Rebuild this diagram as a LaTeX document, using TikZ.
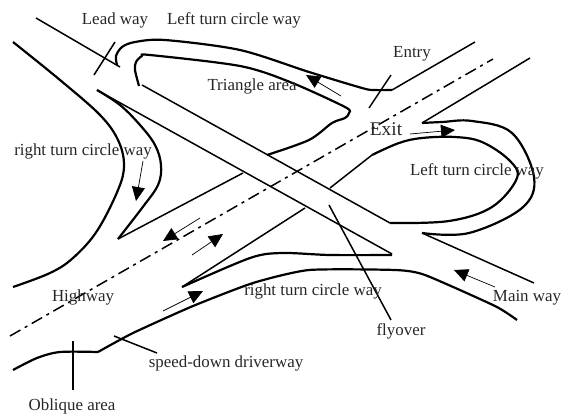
\documentclass[tikz,border=0pt]{standalone}
\usepackage{fontspec}
\setmainfont{Liberation Serif}
\usetikzlibrary{arrows.meta}
\tikzstyle{road} = [line width=1.5pt,black]
\tikzstyle{ramp} = [line width=2.2pt,black,line join=round]
\tikzstyle{arrow} = [line width=0.7pt,black,-{Triangle[length=14pt,width=13pt]}]
\tikzstyle{axis} = [line width=1.5pt,black,dash pattern=on 12pt off 5pt on 3pt off 5pt]
\tikzstyle{label} = [inner sep=0pt,font=\fontsize{16.9}{18}\selectfont,text=black!85]
\begin{document}
\begin{tikzpicture}[x=1pt,y=-1pt]
    \useasboundingbox (0,0) rectangle (564,415);

    % road edges
    \draw[road] (36,18) -- (120,67);
    \draw[road] (392,90) -- (475,42);
    \draw[road] (422,123) -- (530,58);
    \draw[road] (422,233) -- (534,283);
    \draw[road] (118,239) -- (243,173);
    \draw[road] (330,188) -- (372,155);
    \draw[road] (182,287) -- (305,208);

    % flyover
    \draw[road] (142,85) -- (390,223);
    \draw[road] (97,90) -- (392,254);

    % ramps
    \draw[ramp] plot[smooth,tension=0.5] coordinates {(117,65) (116,56) (122,47) (135,42) (165,40) (240,50) (309,72) (362,88) (374,90) (392,90)};
    \draw[ramp] plot[smooth,tension=0.5] coordinates {(139,86) (135,70) (136,62) (142,56) (150,55) (240,66) (290,82) (345,107) (349,113) (345,118) (332,123) (309,140) (267,155)};
    \draw[ramp] plot[smooth,tension=0.6] coordinates {(13,42) (60,80) (100,115) (118,140) (124,165) (118,190) (97,231) (73,258) (50,273) (13,287)};
    \draw[ramp] plot[smooth,tension=0.6] coordinates {(97,90) (120,105) (140,125) (155,145) (161,165) (158,185) (142,208) (118,239)};
    \draw[ramp] plot[smooth,tension=0.6] coordinates {(390,223) (449,221) (492,207) (517,178) (509,160) (482,142) (455,137) (422,138) (399,143) (372,155)};
    \draw[ramp] plot[smooth,tension=0.6] coordinates {(422,233) (469,233) (522,208) (534,177) (512,133) (472,121) (442,122) (422,123)};
    \draw[ramp] plot[smooth,tension=0.5] coordinates {(182,287) (250,258) (282,253) (330,255) (392,255)};
    \draw[ramp] plot[smooth,tension=0.5] coordinates {(13,370) (37,358) (60,352) (98,352)};
    \draw[ramp] plot[smooth,tension=0.35] coordinates {(98,352) (133,333) (193,306) (253,283) (309,270) (395,270) (425,275) (495,306) (517,320)};

    % centre line
    \draw[axis] (10,336) -- (493,59);

    % ticks and leaders
    \draw[road] (115,42) -- (94,75);
    \draw[road] (391,75) -- (369,108);
    \draw[road] (329,205) -- (391,320);
    \draw[road] (114,336) -- (157,353);
    \draw[road] (73,341) -- (73,390);

    % driving directions
    \draw[arrow] (143,161) -- (136,201);
    \draw[arrow] (341,96) -- (306,75);
    \draw[arrow] (410,134) -- (455,130);
    \draw[arrow] (200,218) -- (163,241);
    \draw[arrow] (192,255) -- (223,234);
    \draw[arrow] (163,311) -- (203,291);
    \draw[arrow] (495,287) -- (454,270);

    % labels
    \node[label] (leadway) at (115,20.5) {Lead way};
    \node[label] (leftturntop) at (234,20.5) {Left turn circle way};
    \node[label] (triangle) at (252,86.5) {Triangle area};
    \node[label] (entry) at (412,53.5) {Entry};
    \node[label,font=\fontsize{19.4}{20}\selectfont] (exit) at (386,129.5) {Exit};
    \node[label] (leftturnright) at (477,171.5) {Left turn circle way};
    \node[label] (rightturnleft) at (83,151.5) {right turn circle way};
    \node[label] (highway) at (83,297.5) {Highway};
    \node[label] (rightturnlow) at (313,291.5) {right turn circle way};
    \node[label] (speeddown) at (226,363.5) {speed-down driverway};
    \node[label] (oblique) at (72,406.5) {Oblique area};
    \node[label] (flyover) at (401,331.5) {flyover};
    \node[label] (mainway) at (527,297.5) {Main way};
\end{tikzpicture}
\end{document}
